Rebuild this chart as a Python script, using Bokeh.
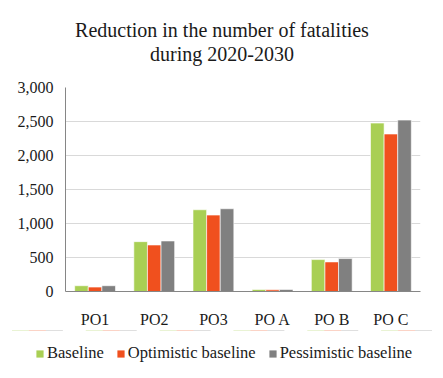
from bokeh.plotting import figure
from bokeh.layouts import column
from bokeh.models import FactorRange, Range1d, FixedTicker, NumeralTickFormatter, Legend, LegendItem, Label, ColumnDataSource
from bokeh.transform import dodge
from bokeh.embed import file_html
from bokeh.resources import INLINE

categories = ["PO1", "PO2", "PO3", "PO A", "PO B", "PO C"]
baseline = [85, 733, 1202, 29, 469, 2477]
optimistic = [65, 684, 1124, 24, 435, 2316]
pessimistic = [85, 743, 1217, 29, 484, 2521]
series_names = ["Baseline", "Optimistic baseline", "Pessimistic baseline"]
y_ticks = [0, 500, 1000, 1500, 2000, 2500, 3000]
title_lines = ["Reduction in the number of fatalities", "during 2020-2030"]

colors = ["#A9CF54", "#F0501E", "#808080"]
FONT = "Liberation Serif"

src = ColumnDataSource(dict(cat=categories, b=baseline, o=optimistic, pz=pessimistic))

# ---- title strip ----
tf = figure(width=443, height=77, output_backend="svg", toolbar_location=None,
            x_range=Range1d(0, 443), y_range=Range1d(77, 0),
            x_axis_location=None, y_axis_location=None,
            min_border_left=0, min_border_right=0, min_border_top=0, min_border_bottom=0)
tf.frame_align = False
tf.outline_line_color = None
tf.grid.visible = False
for line, yy in zip(title_lines, [29, 53]):
    tf.add_layout(Label(x=221.5, y=yy, text=line, text_align="center", text_baseline="middle",
                        text_font=FONT, text_font_size="20px", text_color="#1a1a1a"))

# ---- chart ----
p = figure(x_range=FactorRange(*categories), y_range=Range1d(0, 3000),
           width=443, height=253, output_backend="svg", toolbar_location=None,
           min_border_left=65, min_border_right=23, min_border_top=10, min_border_bottom=38)
p.title = None
p.outline_line_color = None

w = 0.23
renderers = []
for field, off, c in zip(["b", "o", "pz"], [-w, 0, w], colors):
    r = p.vbar(x=dodge("cat", off, range=p.x_range), top=field, width=w, source=src,
               fill_color=c, line_color="white", line_width=0.6)
    renderers.append(r)

p.yaxis.ticker = FixedTicker(ticks=y_ticks)
p.yaxis.formatter = NumeralTickFormatter(format="0,0")
for ax in (p.xaxis[0], p.yaxis[0]):
    ax.axis_line_color = "#868686"
    ax.major_tick_line_color = None
    ax.minor_tick_line_color = None
    ax.major_label_text_font = FONT
    ax.major_label_text_font_size = "16px"
    ax.major_label_text_color = "#1a1a1a"
p.yaxis.major_label_standoff = 6
p.xaxis.major_label_standoff = 13
p.xgrid.grid_line_color = None
p.ygrid.grid_line_color = "#d9d9d9"
p.ygrid.grid_line_width = 1

# ---- legend strip (zero-height proxies share the data but lie far outside the visible range) ----
lg = figure(width=443, height=48, output_backend="svg", toolbar_location=None,
            x_range=p.x_range, y_range=Range1d(-200000, -100000),
            x_axis_location=None, y_axis_location=None,
            min_border_left=0, min_border_right=0, min_border_top=0, min_border_bottom=0)
lg.frame_align = False
lg.outline_line_color = None
lg.grid.visible = False
proxies = []
for field, off, c in zip(["b", "o", "pz"], [-w, 0, w], colors):
    proxies.append(lg.vbar(x=dodge("cat", off, range=p.x_range), top=field, bottom=field,
                           width=w, source=src, fill_color=c, line_color=None))
legend = Legend(items=[LegendItem(label=n, renderers=[r]) for n, r in zip(series_names, proxies)],
                orientation="horizontal", location=(35, 15),
                label_text_font=FONT, label_text_font_size="16.5px", label_text_color="#1a1a1a",
                glyph_width=9, glyph_height=9, spacing=12, label_standoff=3,
                border_line_color=None, background_fill_alpha=0, margin=0, padding=0)
lg.add_layout(legend, "center")

layout = column(tf, p, lg, spacing=0)
open("out.html", "w").write(file_html(layout, INLINE))
